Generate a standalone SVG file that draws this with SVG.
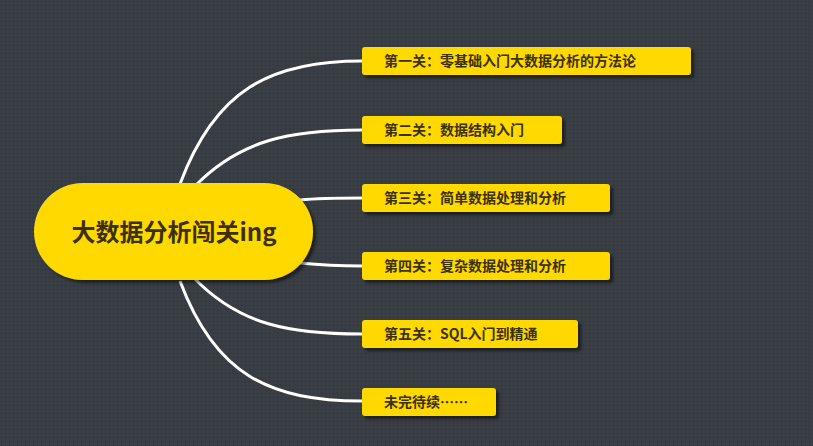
<svg xmlns="http://www.w3.org/2000/svg" width="813" height="446" viewBox="0 0 813 446">
<defs>
<pattern id="dots" width="4" height="4" patternUnits="userSpaceOnUse"><rect width="4" height="4" fill="#383e43"/><rect x="1" y="1" width="1" height="1" fill="#2c3135"/></pattern>
<filter id="sh" x="-10%" y="-30%" width="120%" height="160%"><feDropShadow dx="3" dy="3" stdDeviation="1.5" flood-color="#000" flood-opacity="0.5"/></filter>
</defs>
<style>
.n{fill:#ffd900;filter:url(#sh)}
.t{font-family:"Noto Sans CJK SC","Liberation Sans",sans-serif;font-size:14px;font-weight:bold;fill:#3b3000}
.c{fill:none;stroke:#fff;stroke-width:3}
</style>
<rect width="813" height="446" fill="url(#dots)"/>
<g id="connectors">
<path class="c" d="M180,184 C215,90 270,61 362,61"/>
<path class="c" d="M195,186 C240,140 290,130 362,130"/>
<path class="c" d="M300,200 C320,198 340,198 362,198"/>
<path class="c" d="M300,263 C320,265 340,266 362,266"/>
<path class="c" d="M195,279 C240,325 290,334 362,334"/>
<path class="c" d="M180,281 C215,375 270,401 362,401"/>
</g>
<g id="root"><rect class="n" x="34" y="183" width="279" height="97" rx="48.5"/><text x="174" y="241" text-anchor="middle" class="t" style="font-size:24px">大数据分析闯关ing</text></g>
<g id="n1"><rect class="n" x="362" y="47" width="329" height="28" rx="3"/><text class="t" x="384" y="66">第一关：零基础入门大数据分析的方法论</text></g>
<g id="n2"><rect class="n" x="362" y="116" width="200" height="28" rx="3"/><text class="t" x="384" y="135">第二关：数据结构入门</text></g>
<g id="n3"><rect class="n" x="362" y="184" width="248" height="28" rx="3"/><text class="t" x="384" y="203">第三关：简单数据处理和分析</text></g>
<g id="n4"><rect class="n" x="362" y="252" width="248" height="28" rx="3"/><text class="t" x="384" y="271">第四关：复杂数据处理和分析</text></g>
<g id="n5"><rect class="n" x="362" y="320" width="216" height="28" rx="3"/><text class="t" x="384" y="339">第五关：SQL入门到精通</text></g>
<g id="n6"><rect class="n" x="362" y="388" width="134" height="28" rx="3"/><text class="t" x="384" y="407">未完待续……</text></g>
</svg>
